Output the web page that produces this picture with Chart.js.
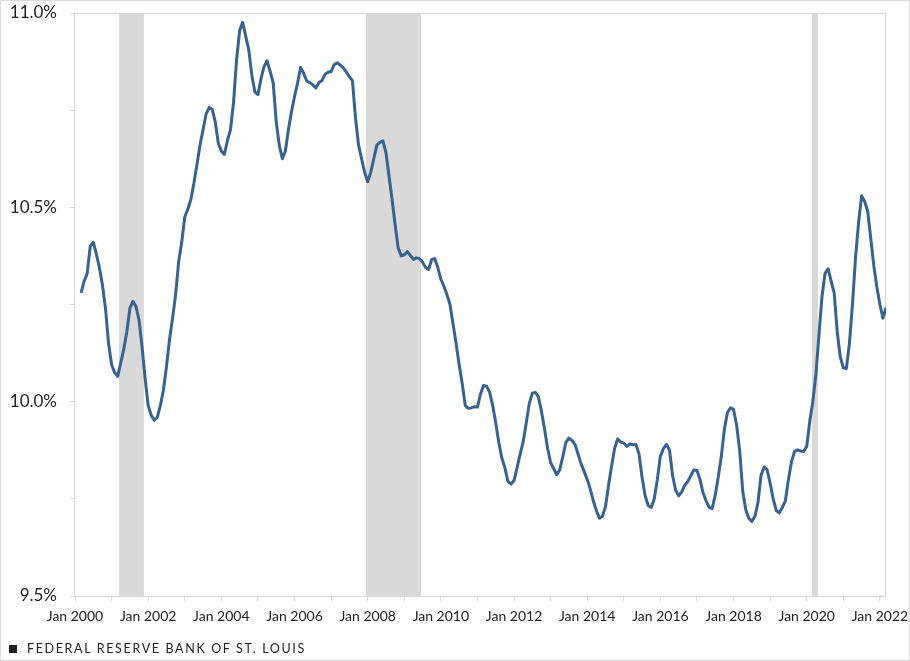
<!DOCTYPE html>
<html>
<head>
<meta charset="utf-8">
<script src="https://cdn.jsdelivr.net/npm/chart.js@4.4.1/dist/chart.umd.min.js"></script>
<style>
  body { margin: 0; background: #fff; }
  #wrap { position: relative; width: 910px; height: 661px; }
  #frame { position: absolute; left: 0; top: 0; width: 910px; height: 661px; box-sizing: border-box; border: 1px solid #dcdcdc; pointer-events: none; }
  canvas { position: absolute; left: 0; top: 0; }
  #source { position: absolute; left: 9px; top: 641px; font: 12.5px Lato, sans-serif; letter-spacing: 1.65px; color: #222; white-space: nowrap; }
  #source span { display: inline-block; width: 8px; height: 8px; background: #222; margin-right: 10px; }
</style>
</head>
<body>
<div id="wrap">
  <canvas id="chart" width="910" height="661"></canvas>
  <div id="source"><span></span>FEDERAL RESERVE BANK OF ST. LOUIS</div>
  <div id="frame"></div>
</div>
<script>
// months counted from Jan 2000; first value is Mar 2000
const firstMonth = 2;

// monthly rate, %, Mar 2000 .. Mar 2022
const rates = [
  10.28, 10.31, 10.33, 10.40, 10.41, 10.38, 10.345, 10.30, 10.24, 10.15,
  10.095, 10.075, 10.065, 10.10, 10.135, 10.18, 10.24, 10.258, 10.245, 10.21,
  10.14, 10.06, 9.99, 9.965, 9.952, 9.96, 9.99, 10.03, 10.09, 10.16,
  10.215, 10.275, 10.36, 10.41, 10.475, 10.495, 10.52, 10.562, 10.61, 10.66,
  10.70, 10.74, 10.757, 10.752, 10.72, 10.665, 10.645, 10.636, 10.672, 10.70,
  10.77, 10.88, 10.955, 10.976, 10.94, 10.905, 10.84, 10.797, 10.79, 10.831,
  10.862, 10.877, 10.85, 10.82, 10.72, 10.66, 10.625, 10.645, 10.70, 10.745,
  10.785, 10.82, 10.86, 10.845, 10.825, 10.821, 10.815, 10.807, 10.821, 10.826,
  10.842, 10.848, 10.849, 10.867, 10.872, 10.866, 10.859, 10.848, 10.836, 10.826,
  10.73, 10.66, 10.625, 10.59, 10.566, 10.59, 10.625, 10.66, 10.667, 10.671,
  10.64, 10.58, 10.52, 10.455, 10.395, 10.375, 10.378, 10.386, 10.376, 10.366,
  10.37, 10.368, 10.359, 10.345, 10.34, 10.366, 10.368, 10.345, 10.315, 10.297,
  10.275, 10.25, 10.20, 10.15, 10.095, 10.047, 9.99, 9.983, 9.984, 9.987,
  9.986, 10.02, 10.042, 10.04, 10.024, 9.99, 9.945, 9.895, 9.855, 9.83,
  9.795, 9.788, 9.797, 9.83, 9.865, 9.897, 9.945, 9.995, 10.022, 10.024,
  10.012, 9.975, 9.93, 9.88, 9.843, 9.828, 9.812, 9.825, 9.859, 9.895,
  9.906, 9.90, 9.89, 9.865, 9.84, 9.82, 9.80, 9.775, 9.745, 9.72,
  9.70, 9.705, 9.73, 9.785, 9.835, 9.88, 9.904, 9.896, 9.894, 9.885,
  9.891, 9.889, 9.89, 9.865, 9.805, 9.758, 9.733, 9.728, 9.75, 9.80,
  9.86, 9.879, 9.89, 9.875, 9.81, 9.772, 9.758, 9.768, 9.785, 9.795,
  9.81, 9.824, 9.823, 9.80, 9.765, 9.745, 9.728, 9.725, 9.76, 9.807,
  9.86, 9.93, 9.972, 9.984, 9.98, 9.94, 9.875, 9.77, 9.722, 9.70,
  9.692, 9.705, 9.74, 9.81, 9.832, 9.825, 9.79, 9.75, 9.72, 9.714,
  9.728, 9.745, 9.80, 9.845, 9.872, 9.876, 9.873, 9.872, 9.885, 9.95,
  10.0, 10.07, 10.17, 10.27, 10.33, 10.342, 10.31, 10.28, 10.18, 10.115,
  10.087, 10.085, 10.15, 10.25, 10.37, 10.46, 10.53, 10.515, 10.49, 10.42,
  10.35, 10.295, 10.25, 10.215, 10.242
];

const xTickLabels = [
  "Jan 2000", "Jan 2002", "Jan 2004", "Jan 2006", "Jan 2008", "Jan 2010",
  "Jan 2012", "Jan 2014", "Jan 2016", "Jan 2018", "Jan 2020", "Jan 2022"
];
const yTickLabels = ["9.5%", "10.0%", "10.5%", "11.0%"];

// recession bands, in months from Jan 2000
const recessionStart = [14.4, 95.4, 241.7];
const recessionEnd = [22.6, 113.5, 243.7];

const points = rates.map((v, i) => ({ x: firstMonth + i, y: v }));

Chart.defaults.font.family = "Lato, 'Open Sans', sans-serif";
Chart.defaults.color = "#222";

// gray recession bars + thin plot frame
const shadePlugin = {
  id: "shade",
  beforeDatasetsDraw(chart) {
    const { ctx, chartArea, scales } = chart;
    ctx.save();
    ctx.fillStyle = "#d9d9d9";
    recessionStart.forEach((s, i) => {
      const x0 = scales.x.getPixelForValue(s);
      const x1 = scales.x.getPixelForValue(recessionEnd[i]);
      ctx.fillRect(x0, chartArea.top, x1 - x0, chartArea.bottom - chartArea.top);
    });
    ctx.strokeStyle = "#d9d9d9";
    ctx.lineWidth = 1;
    ctx.strokeRect(
      Math.round(chartArea.left) - 0.5,
      Math.round(chartArea.top) + 0.5,
      Math.round(chartArea.right - chartArea.left),
      Math.round(chartArea.bottom - chartArea.top)
    );
    ctx.restore();
  },
};

new Chart(document.getElementById("chart"), {
  type: "line",
  data: {
    datasets: [
      {
        data: points,
        borderColor: "#386290",
        borderWidth: 3,
        pointRadius: 0,
        tension: 0,
        borderJoinStyle: "round",
      },
    ],
  },
  options: {
    responsive: false,
    animation: false,
    layout: { padding: { top: 13, right: 24, left: 0, bottom: 0 } },
    plugins: {
      legend: { display: false },
      tooltip: { enabled: false },
    },
    scales: {
      x: {
        type: "linear",
        min: 0,
        max: 266,
        afterBuildTicks: (axis) => {
          axis.ticks = [];
          for (let m = 0; m <= 264; m += 12) axis.ticks.push({ value: m });
        },
        afterFit: (axis) => {
          axis.height = 65;
          axis.paddingLeft = 0;
          axis.paddingRight = 0;
        },
        border: { display: false },
        grid: {
          drawOnChartArea: false,
          drawTicks: true,
          tickLength: 5,
          color: "#d9d9d9",
        },
        ticks: {
          autoSkip: false,
          maxRotation: 0,
          padding: 7,
          font: { size: 14 },
          callback: (v) => (v % 24 === 0 ? xTickLabels[v / 24] : ""),
        },
      },
      y: {
        min: 9.5,
        max: 11,
        afterFit: (axis) => {
          axis.width = 75;
          axis.paddingTop = 0;
          axis.paddingBottom = 0;
        },
        border: { display: false },
        grid: {
          drawOnChartArea: false,
          drawTicks: true,
          tickLength: 5,
          color: "#d9d9d9",
        },
        ticks: {
          stepSize: 0.25,
          padding: 13,
          font: { size: 17 },
          callback: (v) => {
            const idx = Math.round((v - 9.5) / 0.5);
            return Math.abs(v - (9.5 + idx * 0.5)) < 1e-6 ? yTickLabels[idx] : "";
          },
        },
      },
    },
  },
  plugins: [shadePlugin],
});
</script>
</body>
</html>
